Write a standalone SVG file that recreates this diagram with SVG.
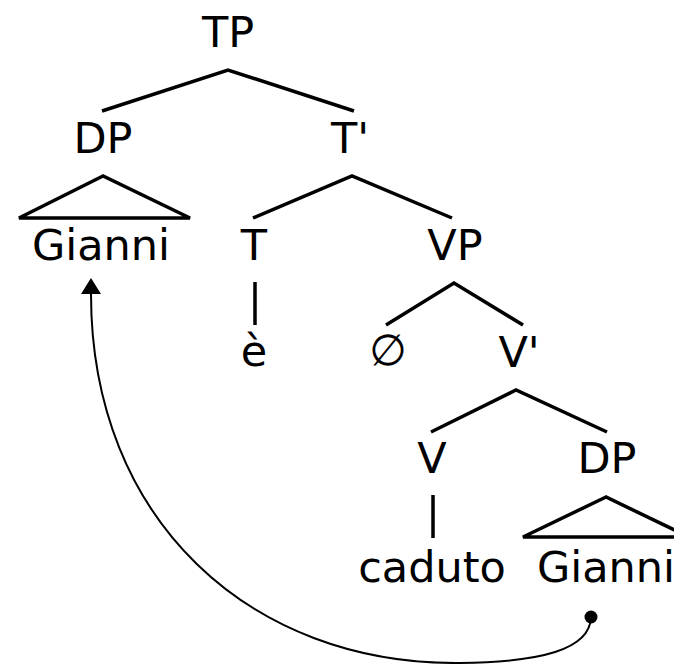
<svg xmlns="http://www.w3.org/2000/svg" width="674" height="664" viewBox="0 0 674 664">
  <style>
    .lbl { font-family: "DejaVu Sans", "Liberation Sans", sans-serif; font-size: 43px; fill: #000; text-anchor: middle; }
    .br { stroke: #000; stroke-width: 3.5; fill: none; stroke-linecap: butt; }
    .mv { stroke: #000; stroke-width: 2; fill: none; }
  </style>
  <rect width="674" height="664" fill="#fff"/>

  <!-- branches -->
  <g id="connectors">
    <polyline class="br" points="102,111 228,70 354,111"/>
    <polygon class="br" points="103,176 19,218 190,218"/>
    <polyline class="br" points="253,218 352,176 452,218"/>
    <line class="br" x1="255" y1="282" x2="255" y2="325"/>
    <polyline class="br" points="386,325 454,283 523,325"/>
    <polyline class="br" points="431,432 516,390 607,432"/>
    <line class="br" x1="433" y1="495" x2="433" y2="538"/>
    <polygon class="br" points="606,497 523,537 689,537"/>
    <!-- movement arrow -->
    <path class="mv" d="M591,617 C590,650 540,662 460,663 C250,665 91,520 91,294"/>
    <path d="M81,294 L91,278 L101,294 Z" fill="#000"/>
    <circle cx="591" cy="617" r="6.5" fill="#000"/>
  </g>

  <g id="n-tp"><text class="lbl" x="228" y="47">TP</text></g>
  <g id="n-dp1"><text class="lbl" x="103" y="153">DP</text></g>
  <g id="n-tbar"><text class="lbl" x="350" y="153">T'</text></g>
  <g id="n-gianni1"><text class="lbl" x="101" y="260">Gianni</text></g>
  <g id="n-t"><text class="lbl" x="254" y="260">T</text></g>
  <g id="n-vp"><text class="lbl" x="455" y="260">VP</text></g>
  <g id="n-e"><text class="lbl" x="254" y="366">è</text></g>
  <g id="n-empty"><text class="lbl" x="388" y="365" font-size="30">∅</text></g>
  <g id="n-vbar"><text class="lbl" x="519" y="367">V'</text></g>
  <g id="n-v"><text class="lbl" x="432" y="473">V</text></g>
  <g id="n-dp2"><text class="lbl" x="607" y="473">DP</text></g>
  <g id="n-caduto"><text class="lbl" x="432" y="582">caduto</text></g>
  <g id="n-gianni2"><text class="lbl" x="606" y="582">Gianni</text></g>
</svg>
